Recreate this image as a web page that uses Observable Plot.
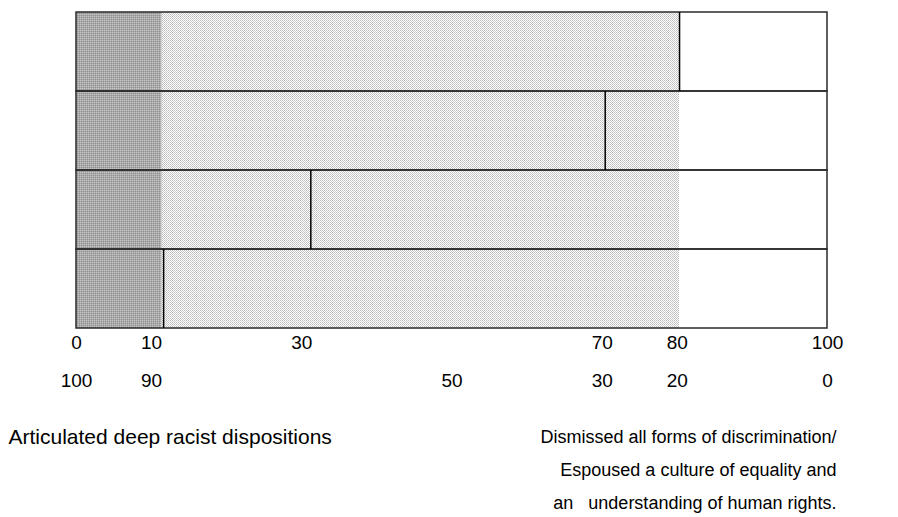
<!DOCTYPE html>
<html>
<head>
<meta charset="utf-8">
<script src="https://cdn.jsdelivr.net/npm/d3@7"></script>
<script src="https://cdn.jsdelivr.net/npm/@observablehq/plot@0.6"></script>
<style>
  html, body { margin: 0; padding: 0; background: #fff; }
  #chart { width: 898px; height: 517px; }
</style>
</head>
<body>
<div id="chart"></div>
<script>
// ---- data ----
const rows = ["r1", "r2", "r3", "r4"];
const darkEnd = [11.4, 11.4, 11.4, 11.4];      // end of dark-shaded zone
const lightEnd = [80.3, 80.3, 80.3, 80.3];     // end of light-shaded zone
const markers = [80.3, 70.4, 31.2, 11.6];      // vertical marker per row
const topTickLabels = [0, 10, 30, 70, 80, 100];
const bottomTickLabels = [100, 90, 50, 30, 20, 0];
const leftLabel = ["Articulated deep racist dispositions"];
const rightLabel = [
  "Dismissed all forms of discrimination/",
  "Espoused a culture of equality and",
  "an   understanding of human rights."
];

const table = rows.map((r, i) => ({row: r, dark: darkEnd[i], light: lightEnd[i], marker: markers[i]}));

const font = "'Liberation Sans', Arial, Helvetica, sans-serif";

const chart = Plot.plot({
  width: 898,
  height: 517,
  marginLeft: 76,
  marginRight: 71,
  marginTop: 12,
  marginBottom: 189,
  style: {fontFamily: font, fontSize: "19px", color: "#000", background: "#fff"},
  x: {domain: [0, 100]},
  y: {domain: rows, padding: 0, axis: null},
  marks: [
    Plot.barX(table, {x1: 0, x2: "dark", y: "row", fill: "url(#darkPat)"}),
    Plot.barX(table, {x1: "dark", x2: "light", y: "row", fill: "url(#lightPat)"}),
    Plot.barX(table, {x1: 0, x2: 100, y: "row", fill: "none", stroke: "#2a2a2a", strokeWidth: 1.5}),
    Plot.tickX(table, {x: "marker", y: "row", stroke: "#000", strokeWidth: 1.5}),
    Plot.axisX(topTickLabels, {anchor: "bottom", tickSize: 0, tickPadding: 7, fontSize: 19, label: null}),
    Plot.axisX(bottomTickLabels.map(d => 100 - d), {anchor: "bottom", tickSize: 0, tickPadding: 45, fontSize: 19, label: null, tickFormat: d => String(100 - d)}),
    Plot.text([leftLabel.join("\n")], {text: d => d, frameAnchor: "bottom-left", textAnchor: "start", lineAnchor: "top", dx: -68, dy: 101, fontSize: 21, fill: "#000"}),
    Plot.text([rightLabel.join("\n")], {text: d => d, frameAnchor: "bottom-right", textAnchor: "end", lineAnchor: "top", lineHeight: 1.833, dx: 9, dy: 91, fontSize: 18, fill: "#000"})
  ]
});

// shading patterns
const ns = "http://www.w3.org/2000/svg";
const defs = document.createElementNS(ns, "defs");
defs.innerHTML = `
  <pattern id="darkPat" patternUnits="userSpaceOnUse" width="2" height="2">
    <rect width="2" height="2" fill="#a8a8a8"/>
    <rect x="0" y="0" width="1" height="1" fill="#c6c6c6"/>
    <rect x="1" y="1" width="1" height="1" fill="#929292"/>
  </pattern>
  <pattern id="lightPat" patternUnits="userSpaceOnUse" width="2" height="2">
    <rect width="2" height="2" fill="#ffffff"/>
    <rect x="0" y="0" width="1" height="1" fill="#bcbcbc"/>
    <rect x="1" y="1" width="1" height="1" fill="#cacaca"/>
  </pattern>`;
chart.insertBefore(defs, chart.firstChild);

document.getElementById("chart").appendChild(chart);
</script>
</body>
</html>
